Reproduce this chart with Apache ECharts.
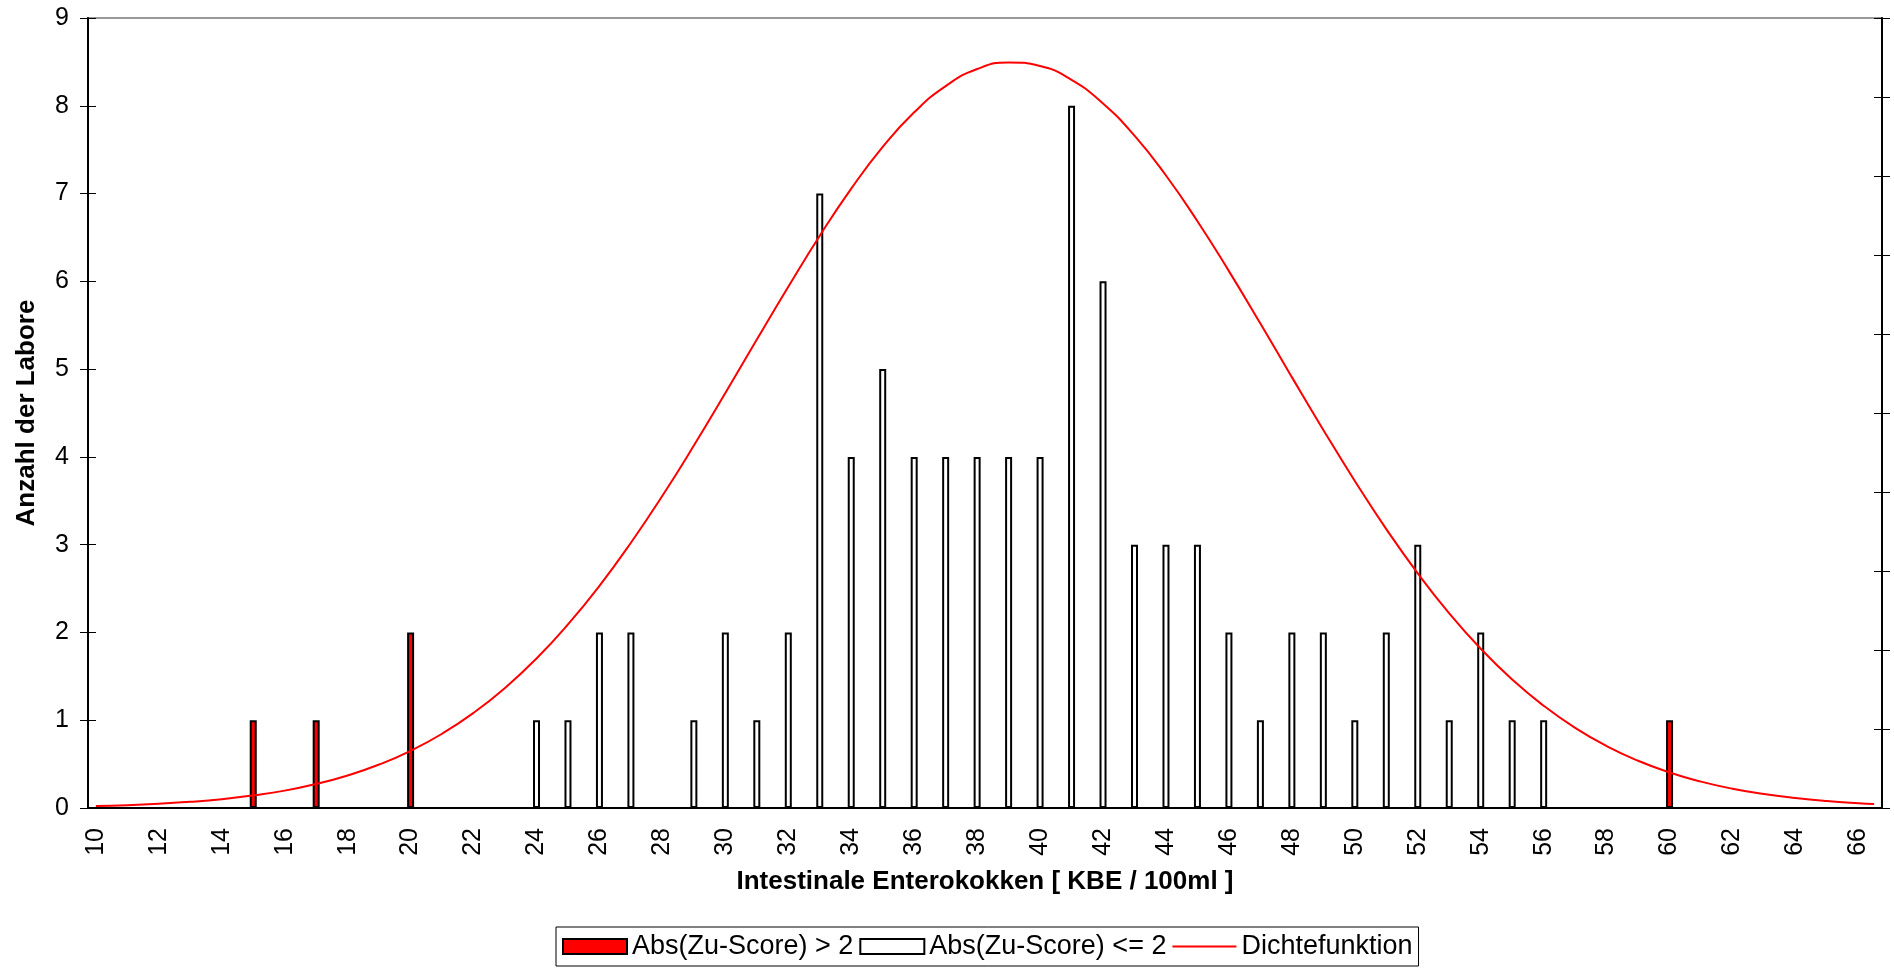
<!DOCTYPE html>
<html>
<head>
<meta charset="utf-8">
<script src="https://cdn.jsdelivr.net/npm/echarts@6/dist/echarts.min.js"></script>
<style>
  html, body { margin: 0; padding: 0; background: #fff; }
  #main { width: 1894px; height: 969px; }
</style>
</head>
<body>
<div id="main"></div>
<script>
// x axis: one band per half unit, 10 .. 66.5
const categories = []
for (let v = 10; v <= 66.5; v += 0.5) categories.push(String(v))

// Abs(Zu-Score) > 2
const outlierX = ['15', '17', '20', '60']
const outlierCounts = [1, 1, 2, 1]

// Abs(Zu-Score) <= 2
const normalX = ['24', '25', '26', '27', '29', '30', '31', '32', '33', '34', '35', '36', '37', '38', '39', '40',
  '41', '42', '43', '44', '45', '46', '47', '48', '49', '50', '51', '52', '53', '54', '55', '56']
const normalCounts = [1, 1, 2, 2, 1, 2, 1, 2, 7, 4, 5, 4, 4, 4, 4, 4,
  8, 6, 3, 3, 3, 2, 1, 2, 2, 1, 2, 3, 1, 2, 1, 1]

// Dichtefunktion (right axis)
const densityX = ['10', '11', '12', '13', '14', '15', '16', '17', '18', '19', '20', '21', '22', '23', '24', '25',
  '26', '27', '28', '29', '30', '31', '32', '33', '34', '35', '36', '37', '38', '39', '40', '41', '42', '43',
  '44', '45', '46', '47', '48', '49', '50', '51', '52', '53', '54', '55', '56', '57', '58', '59', '60', '61',
  '62', '63', '64', '65', '66', '66.5']
const densityY = [0.00012, 0.00018, 0.00027, 0.00039, 0.00056, 0.0008, 0.0011, 0.00152, 0.00206, 0.00275,
  0.00362, 0.0047, 0.00602, 0.0076, 0.00946, 0.01162, 0.01406, 0.01679, 0.01976, 0.02294, 0.02626, 0.02965,
  0.03299, 0.03622, 0.0392, 0.04184, 0.04403, 0.04569, 0.04677, 0.04719, 0.04696, 0.04608, 0.04459, 0.04255,
  0.04003, 0.03714, 0.03398, 0.03066, 0.02727, 0.02393, 0.0207, 0.01765, 0.01485, 0.01232, 0.01008, 0.00813,
  0.00647, 0.00507, 0.00392, 0.00299, 0.00225, 0.00167, 0.00122, 0.00088, 0.00063, 0.00044, 0.0003, 0.00025]

const yTicks = { min: 0, max: 9, interval: 1 }
const densityTicks = { min: 0, max: 0.05, interval: 0.005 }

const font = 'Liberation Sans, Arial, sans-serif'
const black = '#000'

const chart = echarts.init(document.getElementById('main'))

const pairs = (xs, ys) => xs.map((x, i) => [x, ys[i]])

const option = {
  animation: false,
  textStyle: { fontFamily: font, color: black },
  grid: {
    left: 88,
    right: 12,
    top: 18,
    bottom: 161,
    show: true,
    borderColor: '#999',
    borderWidth: 2,
  },
  legend: {
    bottom: 3,
    left: 556,
    borderColor: black,
    borderWidth: 1,
    padding: [6, 6],
    itemGap: 6,
    itemWidth: 64,
    itemHeight: 15,
    textStyle: { fontSize: 27, color: black, fontFamily: font },
    data: [
      { name: 'Abs(Zu-Score) > 2', icon: 'rect' },
      { name: 'Abs(Zu-Score) <= 2', icon: 'rect' },
      { name: 'Dichtefunktion', icon: 'path://M0,0 L60,0 L60,2 L0,2 Z', itemStyle: { color: '#ff0000', borderWidth: 0 } },
    ],
  },
  xAxis: [
    {
      type: 'category',
      data: categories,
      boundaryGap: true,
      position: 'bottom',
      name: 'Intestinale Enterokokken [ KBE / 100ml ]',
      nameLocation: 'middle',
      nameGap: 61,
      nameTextStyle: { fontSize: 26, fontWeight: 'bold', color: black },
      axisLine: { lineStyle: { color: black, width: 2 } },
      axisTick: { interval: 0, length: 8, lineStyle: { color: black } },
      axisLabel: { interval: 3, rotate: 90, margin: 20, fontSize: 25, color: black },
      splitLine: { show: false },
    },
    {
      type: 'category',
      data: categories,
      boundaryGap: true,
      position: 'bottom',
      axisLine: { show: false },
      axisTick: { interval: 0, inside: true, length: 8, lineStyle: { color: black } },
      axisLabel: { show: false },
      splitLine: { show: false },
    },
  ],
  yAxis: [
    {
      type: 'value',
      position: 'left',
      ...yTicks,
      name: 'Anzahl der Labore',
      nameLocation: 'middle',
      nameGap: 48,
      nameTextStyle: { fontSize: 26, fontWeight: 'bold', color: black },
      axisLine: { show: true, lineStyle: { color: black, width: 2 } },
      axisTick: { show: true, length: 8, lineStyle: { color: black } },
      axisLabel: { margin: 19, fontSize: 25, color: black },
      splitLine: { show: false },
    },
    {
      type: 'value',
      position: 'left',
      ...yTicks,
      axisLine: { show: false },
      axisTick: { show: true, inside: true, length: 8, lineStyle: { color: black } },
      axisLabel: { show: false },
      splitLine: { show: false },
    },
    {
      type: 'value',
      position: 'right',
      ...densityTicks,
      axisLine: { show: true, lineStyle: { color: black, width: 2 } },
      axisTick: { show: true, length: 8, lineStyle: { color: black } },
      axisLabel: { show: false },
      splitLine: { show: false },
    },
    {
      type: 'value',
      position: 'right',
      ...densityTicks,
      axisLine: { show: false },
      axisTick: { show: true, inside: true, length: 8, lineStyle: { color: black } },
      axisLabel: { show: false },
      splitLine: { show: false },
    },
  ],
  series: [
    {
      name: 'Abs(Zu-Score) > 2',
      type: 'bar',
      xAxisIndex: 0,
      yAxisIndex: 0,
      barWidth: 7,
      barGap: '-100%',
      itemStyle: { color: '#ff0000', borderColor: black, borderWidth: 2 },
      data: pairs(outlierX, outlierCounts),
    },
    {
      name: 'Abs(Zu-Score) <= 2',
      type: 'bar',
      xAxisIndex: 0,
      yAxisIndex: 0,
      barWidth: 7,
      barGap: '-100%',
      itemStyle: { color: '#ffffff', borderColor: black, borderWidth: 2 },
      data: pairs(normalX, normalCounts),
    },
    {
      name: 'Dichtefunktion',
      type: 'line',
      xAxisIndex: 0,
      yAxisIndex: 2,
      smooth: true,
      symbol: 'none',
      showSymbol: false,
      lineStyle: { color: '#ff0000', width: 2 },
      itemStyle: { color: '#ff0000' },
      data: pairs(densityX, densityY),
    },
  ],
}

chart.setOption(option)
</script>
</body>
</html>
